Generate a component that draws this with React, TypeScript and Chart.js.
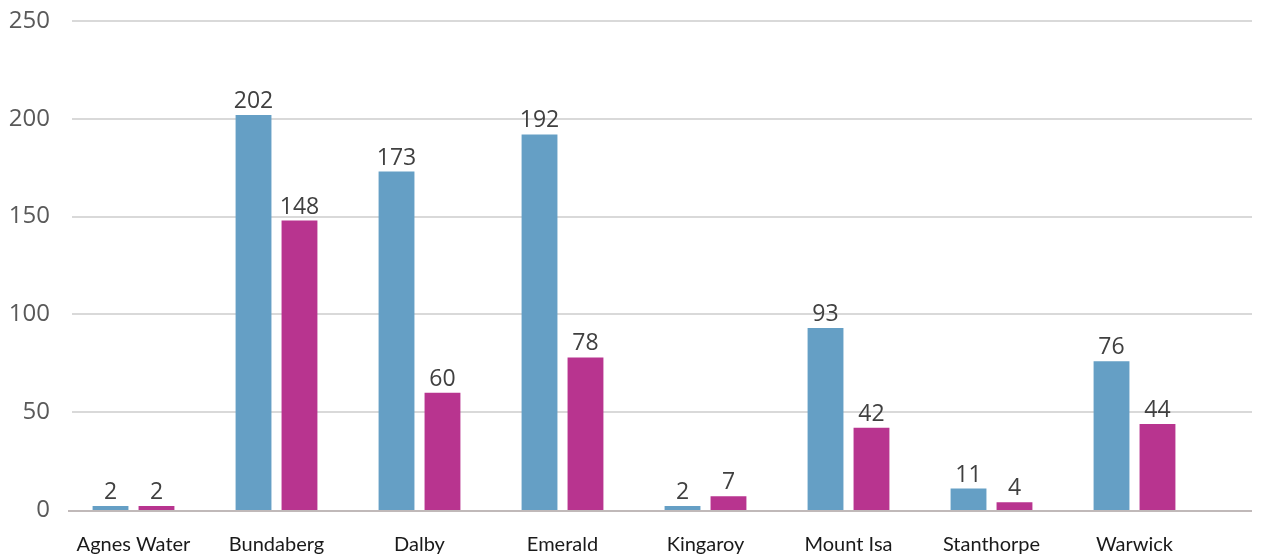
import React, { useEffect, useRef } from "react";
import { Chart, registerables } from "chart.js";

Chart.register(...registerables);

const categories = ["Agnes Water", "Bundaberg", "Dalby", "Emerald", "Kingaroy", "Mount Isa", "Stanthorpe", "Warwick"];
const seriesA = [2, 202, 173, 192, 2, 93, 11, 76];
const seriesB = [2, 148, 60, 78, 7, 42, 4, 44];
const yTicks = [0, 50, 100, 150, 200, 250];

const BLUE = "#659fc5";
const MAGENTA = "#b8348f";

const gridPlugin = {
  id: "extGrid",
  beforeDatasetsDraw(chart: any) {
    const { ctx } = chart;
    const y = chart.scales.y;
    ctx.save();
    ctx.lineWidth = 2;
    ctx.strokeStyle = "#d9d9d9";
    yTicks.forEach((t) => {
      if (t === 0) return;
      const py = Math.round(y.getPixelForValue(t));
      ctx.beginPath();
      ctx.moveTo(72, py);
      ctx.lineTo(1252, py);
      ctx.stroke();
    });
    const p0 = Math.round(y.getPixelForValue(0)) + 1;
    ctx.strokeStyle = "#c0b9b9";
    ctx.beginPath();
    ctx.moveTo(68, p0);
    ctx.lineTo(1252, p0);
    ctx.stroke();
    ctx.restore();
  },
};

const labelPlugin = {
  id: "valueLabels",
  afterDatasetsDraw(chart: any) {
    const { ctx } = chart;
    ctx.save();
    ctx.font = "23px 'Open Sans'";
    ctx.fillStyle = "#404040";
    ctx.textAlign = "center";
    ctx.textBaseline = "bottom";
    chart.data.datasets.forEach((ds: any, i: number) => {
      const meta = chart.getDatasetMeta(i);
      meta.data.forEach((el: any, j: number) => {
        ctx.fillText(String(ds.data[j]), el.x, el.y - 2);
      });
    });
    ctx.restore();
  },
};

export default function App() {
  const ref = useRef<HTMLCanvasElement>(null);
  useEffect(() => {
    if (!ref.current) return;
    const chart = new Chart(ref.current, {
      type: "bar",
      data: {
        labels: categories,
        datasets: [
          { label: "A", data: seriesA, backgroundColor: BLUE, categoryPercentage: 0.643, barPercentage: 0.78 },
          { label: "B", data: seriesB, backgroundColor: MAGENTA, categoryPercentage: 0.643, barPercentage: 0.78 },
        ],
      },
      options: {
        animation: false,
        responsive: false,
        maintainAspectRatio: false,
        layout: { padding: { left: 0, right: 57, top: 21, bottom: 0 } },
        plugins: { legend: { display: false }, tooltip: { enabled: false } },
        scales: {
          x: {
            grid: { display: false, drawTicks: false },
            border: { display: false },
            ticks: { color: "#1a1a1a", font: { family: "Lato", size: 20 }, padding: 23, maxRotation: 0, autoSkip: false },
            afterFit: (s: any) => { s.height = 48; s.paddingLeft = 0; s.paddingRight = 0; },
          },
          y: {
            min: 0,
            max: 250,
            grid: { display: false, drawTicks: false },
            border: { display: false },
            ticks: { stepSize: 50, color: "#595959", font: { family: "Open Sans", size: 24 }, padding: 12 },
            afterFit: (s: any) => { s.width = 62; s.paddingTop = 0; s.paddingBottom = 0; },
          },
        },
      },
      plugins: [gridPlugin, labelPlugin],
    });
    return () => chart.destroy();
  }, []);
  return (
    <canvas
      ref={ref}
      width={1263}
      height={558}
      style={{ position: "fixed", left: 0, top: 0, width: 1263, height: 558 }}
    />
  );
}
